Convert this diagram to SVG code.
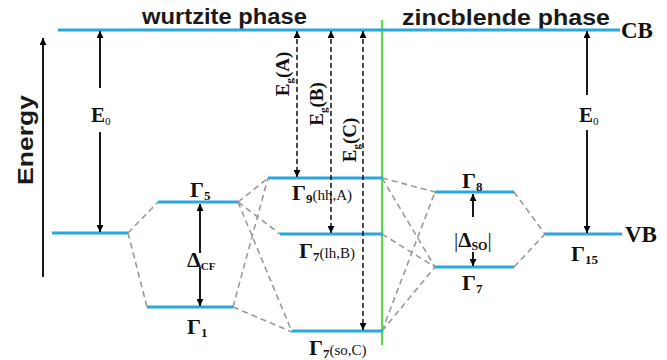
<svg xmlns="http://www.w3.org/2000/svg" width="667" height="360" viewBox="0 0 667 360">
<defs>
<marker id="ah" viewBox="0 0 10 10" refX="10" refY="5" markerUnits="userSpaceOnUse" markerWidth="8" markerHeight="7" orient="auto-start-reverse">
<path d="M0,0 L10,5 L0,10 z" fill="#000"/>
</marker>
<style>
.lvl{stroke:#29a8dc;stroke-width:3;fill:none}
.dash{stroke:#9a9a9a;stroke-width:1.6;stroke-dasharray:6,4;fill:none}
.arr{stroke:#000;stroke-width:1.8;fill:none}
.darr{stroke:#000;stroke-width:1.4;stroke-dasharray:5,3;fill:none}
.head{font-family:"Liberation Sans",Arial,sans-serif;font-weight:bold;font-size:22px;fill:#1a1a1a}
.ser{font-family:"Liberation Serif","Times New Roman",serif;font-weight:bold;fill:#111}
.g{font-size:22px}
.sub{font-size:13px}
.par{font-family:"Liberation Serif","Times New Roman",serif;font-weight:normal;font-size:15px}
</style>
</defs>
<rect width="667" height="360" fill="#fff"/>
<g id="headings">
<text class="head" x="142" y="24" textLength="165" lengthAdjust="spacingAndGlyphs">wurtzite phase</text>
<text class="head" x="402" y="25" textLength="208" lengthAdjust="spacingAndGlyphs">zincblende phase</text>
</g>
<g id="energy-axis">
<line class="arr" x1="43" y1="277" x2="43" y2="38" marker-end="url(#ah)" stroke-width="2"/>
<text class="head" transform="translate(33,140) rotate(-90)" text-anchor="middle" font-size="22" textLength="90" lengthAdjust="spacingAndGlyphs">Energy</text>
</g>
<g id="connectors">
<line class="dash" x1="128" y1="233" x2="158" y2="202"/>
<line class="dash" x1="128" y1="233" x2="147" y2="307"/>
<line class="dash" x1="238" y1="202" x2="268" y2="178"/>
<line class="dash" x1="238" y1="202" x2="280" y2="234"/>
<line class="dash" x1="238" y1="202" x2="292" y2="332"/>
<line class="dash" x1="233" y1="307" x2="268" y2="178"/>
<line class="dash" x1="233" y1="307" x2="292" y2="332"/>
<line class="dash" x1="382" y1="178" x2="435" y2="192"/>
<line class="dash" x1="382" y1="178" x2="435" y2="267"/>
<line class="dash" x1="382" y1="234" x2="435" y2="267"/>
<line class="dash" x1="382" y1="331" x2="435" y2="192"/>
<line class="dash" x1="382" y1="331" x2="435" y2="267"/>
<line class="dash" x1="514" y1="192" x2="545" y2="234"/>
<line class="dash" x1="514" y1="267" x2="545" y2="234"/>
</g>
<g id="phase-boundary">
<line x1="382" y1="20" x2="382" y2="345" stroke="#5fd94a" stroke-width="2.2"/>
</g>
<g id="CB">
<line class="lvl" x1="58" y1="30" x2="620" y2="30"/>
<text class="ser" x="621" y="38" font-size="23">CB</text>
</g>
<g id="VB-wz">
<line class="lvl" x1="52" y1="233" x2="128" y2="233"/>
</g>
<g id="E0-left">
<line class="arr" x1="100" y1="88" x2="100" y2="31" marker-end="url(#ah)"/>
<line class="arr" x1="100" y1="132" x2="100" y2="232" marker-end="url(#ah)"/>
<text class="ser" x="91" y="122" font-size="21">E<tspan font-size="11" font-weight="normal" dy="3">0</tspan></text>
</g>
<g id="Gamma5">
<line class="lvl" x1="158" y1="202" x2="238" y2="202"/>
<text class="ser g" x="190" y="197">Γ<tspan class="sub" dy="3">5</tspan></text>
</g>
<g id="Gamma1">
<line class="lvl" x1="147" y1="307" x2="233" y2="307"/>
<text class="ser g" x="187" y="334">Γ<tspan class="sub" dy="3">1</tspan></text>
</g>
<g id="DeltaCF">
<line class="arr" x1="200" y1="253" x2="200" y2="204" marker-end="url(#ah)"/>
<line class="arr" x1="200" y1="267" x2="200" y2="306" marker-end="url(#ah)"/>
<text class="ser" x="187" y="267" font-size="22">Δ<tspan font-size="11" dy="3">CF</tspan></text>
</g>
<g id="Gamma9">
<line class="lvl" x1="268" y1="178" x2="383" y2="178"/>
<text class="ser g" x="292" y="200">Γ<tspan class="sub" dy="3">9</tspan><tspan class="par" dy="-3">(hh,A)</tspan></text>
</g>
<g id="Gamma7-lh">
<line class="lvl" x1="280" y1="234" x2="383" y2="234"/>
<text class="ser g" x="299" y="258">Γ<tspan class="sub" dy="3">7</tspan><tspan class="par" dy="-3">(lh,B)</tspan></text>
</g>
<g id="Gamma7-so">
<line class="lvl" x1="292" y1="331" x2="383" y2="331"/>
<text class="ser g" x="309" y="355">Γ<tspan class="sub" dy="3">7</tspan><tspan class="par" dy="-3">(so,C)</tspan></text>
</g>
<g id="Eg-A">
<line class="darr" x1="297" y1="31" x2="297" y2="177" marker-start="url(#ah)" marker-end="url(#ah)"/>
<text class="ser" transform="translate(289,74) rotate(-90)" text-anchor="middle" font-size="19">E<tspan font-size="11" dy="4">g</tspan><tspan dy="-4">(A)</tspan></text>
</g>
<g id="Eg-B">
<line class="darr" x1="331" y1="31" x2="331" y2="233" marker-start="url(#ah)" marker-end="url(#ah)"/>
<text class="ser" transform="translate(323,104) rotate(-90)" text-anchor="middle" font-size="19">E<tspan font-size="11" dy="4">g</tspan><tspan dy="-4">(B)</tspan></text>
</g>
<g id="Eg-C">
<line class="darr" x1="363" y1="31" x2="363" y2="330" marker-start="url(#ah)" marker-end="url(#ah)"/>
<text class="ser" transform="translate(356,140) rotate(-90)" text-anchor="middle" font-size="19">E<tspan font-size="11" dy="4">g</tspan><tspan dy="-4">(C)</tspan></text>
</g>
<g id="Gamma8">
<line class="lvl" x1="435" y1="192" x2="514" y2="192"/>
<text class="ser g" x="462" y="188">Γ<tspan class="sub" dy="3">8</tspan></text>
</g>
<g id="Gamma7-zb">
<line class="lvl" x1="435" y1="267" x2="514" y2="267"/>
<text class="ser g" x="462" y="290">Γ<tspan class="sub" dy="3">7</tspan></text>
</g>
<g id="DeltaSO">
<line class="arr" x1="473" y1="217" x2="473" y2="194" marker-end="url(#ah)"/>
<line class="arr" x1="473" y1="252" x2="473" y2="266" marker-end="url(#ah)"/>
<text class="ser" x="454" y="247" font-size="21"><tspan font-weight="normal">|</tspan>Δ<tspan font-size="12" dy="3">SO</tspan><tspan font-weight="normal" dy="-3">|</tspan></text>
</g>
<g id="VB-zb">
<line class="lvl" x1="545" y1="234" x2="622" y2="234"/>
<text class="ser" x="625" y="242" font-size="23">VB</text>
<text class="ser g" x="571" y="261">Γ<tspan class="sub" dy="3">15</tspan></text>
</g>
<g id="E0-right">
<line class="arr" x1="587" y1="95" x2="587" y2="31" marker-end="url(#ah)"/>
<line class="arr" x1="587" y1="130" x2="587" y2="233" marker-end="url(#ah)"/>
<text class="ser" x="579" y="122" font-size="21">E<tspan font-size="11" font-weight="normal" dy="3">0</tspan></text>
</g>
</svg>
